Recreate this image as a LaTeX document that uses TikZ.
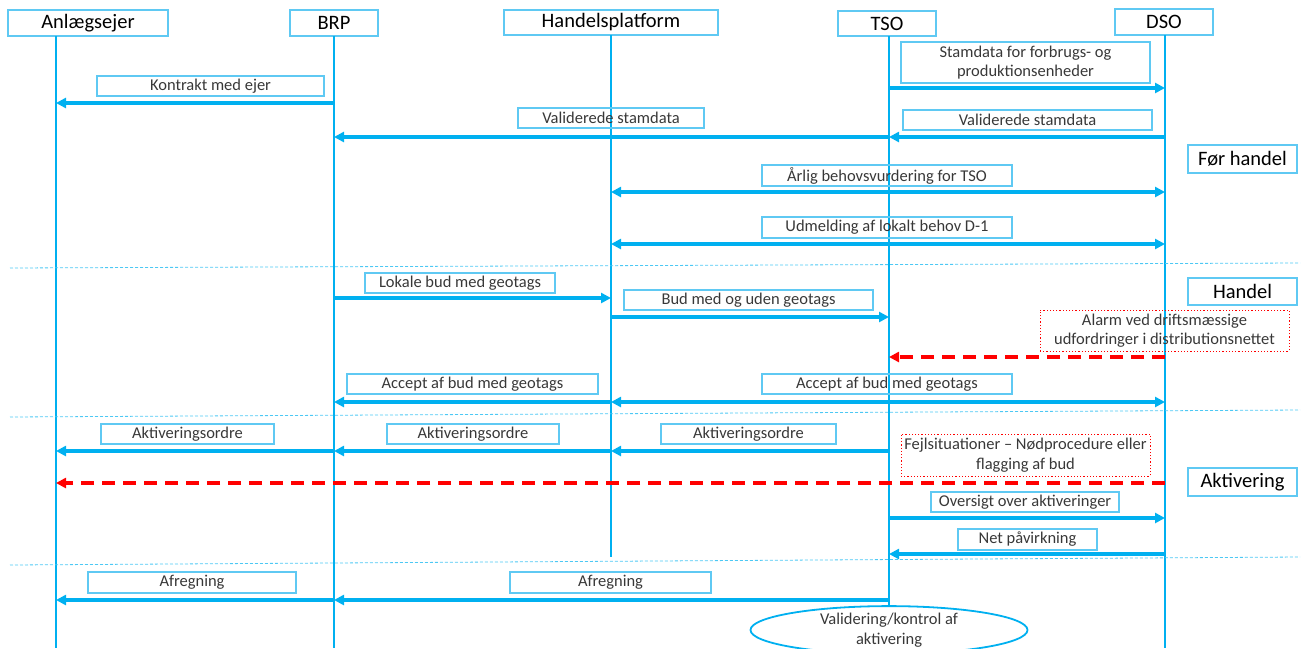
\documentclass[tikz,border=0pt]{standalone}
\usepackage{fontspec}
\setmainfont{Carlito}
\usepackage{tikz}
\usetikzlibrary{positioning,arrows.meta,shapes.geometric}
\definecolor{lineblue}{HTML}{00B0F0}
\definecolor{boxblue}{HTML}{5FC9F3}

\begin{document}
\begin{tikzpicture}
[x=1pt, y=-1pt,
headnode/.style={rectangle, draw=boxblue, line width=1.5pt, inner sep=0pt, font=\fontsize{20.5}{24}\selectfont},
labelnode/.style={rectangle, draw=boxblue, line width=1.2pt, inner sep=0pt, text=black!78, align=center, font=\fontsize{16.5}{19.5}\selectfont},
alarmnode/.style={labelnode, draw=red, dotted, line width=0.8pt},
lifeline/.style={draw=lineblue, line width=1.2pt},
msg/.style={draw=lineblue, line width=3.3pt, -{Triangle[length=10pt,width=10pt]}},
both/.style={msg, {Triangle[length=10pt,width=10pt]}-{Triangle[length=10pt,width=10pt]}},
alarm/.style={draw=red, line width=3.3pt, dash pattern=on 13pt off 8pt, -{Triangle[length=10pt,width=10pt]}},
divider/.style={draw=lineblue!70, line width=0.8pt, dash pattern=on 3pt off 2pt},
]
\useasboundingbox (0,0) rectangle (1305,648);

% actors
\node[headnode, minimum width=160pt, minimum height=26pt] (anl) at (88,23) {Anlægsejer};
\node[headnode, minimum width=88pt, minimum height=26pt] (brp) at (334,23) {BRP};
\node[headnode, minimum width=214pt, minimum height=25pt] (hp) at (611,22.5) {Handelsplatform};
\node[headnode, minimum width=98pt, minimum height=25pt] (tso) at (887,23.5) {TSO};
\node[headnode, minimum width=98pt, minimum height=26pt] (dso) at (1164,22) {DSO};

% phases
\node[headnode, minimum width=109pt, minimum height=28pt] (foer) at (1242.5,159) {Før handel};
\node[headnode, minimum width=109pt, minimum height=27pt] (handel) at (1242.5,291.5) {Handel};
\node[headnode, minimum width=109pt, minimum height=28pt] (aktiv) at (1242.5,482) {Aktivering};

% lifelines
\coordinate (anlTop) at (56,36);
\coordinate (brpTop) at (334,36);
\coordinate (hpTop) at (611,35);
\coordinate (tsoTop) at (889,36);
\coordinate (dsoTop) at (1165,35);
\coordinate (anlBot) at (56,648);
\coordinate (brpBot) at (334,648);
\coordinate (hpBot) at (611,557);
\coordinate (tsoBot) at (889,607);
\coordinate (dsoBot) at (1165,648);
\draw[lifeline] (anlTop) -- (anlBot);
\draw[lifeline] (brpTop) -- (brpBot);
\draw[lifeline] (hpTop) -- (hpBot);
\draw[lifeline] (tsoTop) -- (tsoBot);
\draw[lifeline] (dsoTop) -- (dsoBot);

% phase dividers
\draw[divider] (10,268) -- (1300,263);
\draw[divider] (10,417) -- (1300,410);
\draw[divider] (10,565) -- (1300,557);

% message labels
\node[labelnode, minimum width=227pt, minimum height=20pt] (kontrakt) at (210.5,86) {Kontrakt med ejer};
\node[labelnode, minimum width=249pt, minimum height=41pt] (stamdata) at (1025.5,62.5) {Stamdata for forbrugs- og\\produktionsenheder};
\node[labelnode, minimum width=186pt, minimum height=20pt] (valid1) at (611,118) {Validerede stamdata};
\node[labelnode, minimum width=249pt, minimum height=20pt] (valid2) at (1027.5,120) {Validerede stamdata};
\node[labelnode, minimum width=250pt, minimum height=21pt] (behov) at (887,175.5) {Årlig behovsvurdering for TSO};
\node[labelnode, minimum width=250pt, minimum height=21pt] (udmeld) at (887,227.5) {Udmelding af lokalt behov D-1};
\node[labelnode, minimum width=190pt, minimum height=20pt] (lokale) at (460,283) {Lokale bud med geotags};
\node[labelnode, minimum width=249pt, minimum height=20pt] (bud) at (748.5,300) {Bud med og uden geotags};
\node[alarmnode, minimum width=249pt, minimum height=41pt] (alarmtxt) at (1164.5,330.5) {Alarm ved driftsmæssige\\udfordringer i distributionsnettet};
\node[labelnode, minimum width=251pt, minimum height=20pt] (accept1) at (472.5,384) {Accept af bud med geotags};
\node[labelnode, minimum width=250pt, minimum height=20pt] (accept2) at (887,384) {Accept af bud med geotags};
\node[labelnode, minimum width=173pt, minimum height=20pt] (akt1) at (187.5,434) {Aktiveringsordre};
\node[labelnode, minimum width=172pt, minimum height=20pt] (akt2) at (473,434) {Aktiveringsordre};
\node[labelnode, minimum width=175pt, minimum height=20pt] (akt3) at (748.5,434) {Aktiveringsordre};
\node[alarmnode, minimum width=249pt, minimum height=42pt] (fejl) at (1025.5,455) {Fejlsituationer -- Nødprocedure eller\\flagging af bud};
\node[labelnode, minimum width=188pt, minimum height=20pt] (oversigt) at (1025,502) {Oversigt over aktiveringer};
\node[labelnode, minimum width=139pt, minimum height=21pt] (net) at (1027.5,539.5) {Net påvirkning};
\node[labelnode, minimum width=208pt, minimum height=21pt] (afr1) at (192,582.5) {Afregning};
\node[labelnode, minimum width=201pt, minimum height=21pt] (afr2) at (610.5,582.5) {Afregning};
\node[ellipse, draw=lineblue, line width=1.8pt, inner sep=0pt, minimum width=277pt, minimum height=46pt, text=black!78, align=center, font=\fontsize{16.5}{19.5}\selectfont] (valid) at (889,630) {Validering/kontrol af\\aktivering};

% before trading
\draw[msg] (brpTop |- 0,103) -- (anlTop |- 0,103);
\draw[msg] (tsoTop |- 0,88) -- (dsoTop |- 0,88);
\draw[msg] (dsoTop |- 0,137) -- (tsoTop |- 0,137);
\draw[msg] (tsoTop |- 0,137) -- (brpTop |- 0,137);
\draw[both] (hpTop |- 0,192) -- (dsoTop |- 0,192);
\draw[both] (hpTop |- 0,244) -- (dsoTop |- 0,244);

% trading
\draw[msg] (brpTop |- 0,298) -- (hpTop |- 0,298);
\draw[msg] (hpTop |- 0,317) -- (tsoTop |- 0,317);
\draw[alarm] (dsoTop |- 0,357) -- (tsoTop |- 0,357);
\draw[msg] (hpTop |- 0,402) -- (brpTop |- 0,402);
\draw[both] (hpTop |- 0,402) -- (dsoTop |- 0,402);

% activation
\draw[msg] (tsoTop |- 0,451) -- (hpTop |- 0,451);
\draw[msg] (hpTop |- 0,451) -- (brpTop |- 0,451);
\draw[msg] (brpTop |- 0,451) -- (anlTop |- 0,451);
\draw[alarm] (dsoTop |- 0,483) -- (anlTop |- 0,483);
\draw[msg] (tsoTop |- 0,518) -- (dsoTop |- 0,518);
\draw[msg] (dsoTop |- 0,554) -- (tsoTop |- 0,554);

% settlement
\draw[msg] (tsoTop |- 0,600) -- (brpTop |- 0,600);
\draw[msg] (brpTop |- 0,600) -- (anlTop |- 0,600);
\end{tikzpicture}
\end{document}
